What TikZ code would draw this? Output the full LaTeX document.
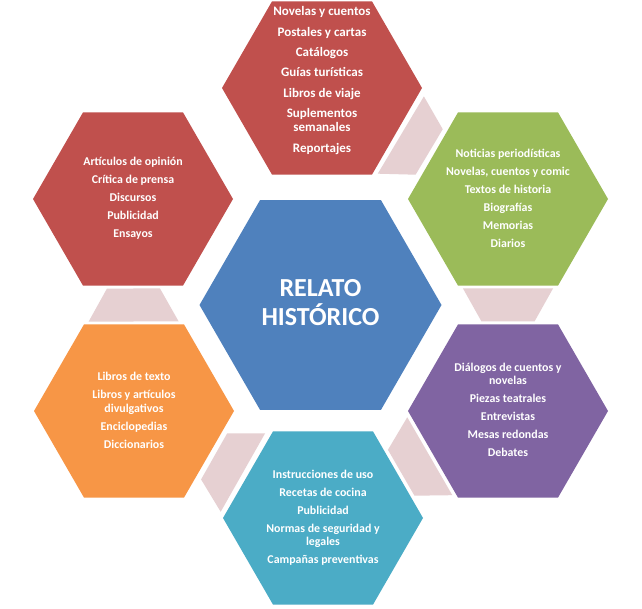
\documentclass[tikz,border=0pt]{standalone}
\usepackage{fontspec}
\setmainfont{Carlito}
\usetikzlibrary{calc}
\definecolor{hexred}{HTML}{C0504D}
\definecolor{hexgreen}{HTML}{9BBB59}
\definecolor{hexpurple}{HTML}{8064A2}
\definecolor{hexcyan}{HTML}{4BACC6}
\definecolor{hexorange}{HTML}{F79646}
\definecolor{hexblue}{HTML}{4F81BD}
\definecolor{linkpink}{RGB}{230,208,210}
\newcommand\hexshape[3]{\fill[#3] (#1) +(0:#2) -- +(60:#2) -- +(120:#2) -- +(180:#2) -- +(240:#2) -- +(300:#2) -- cycle;}
\newcommand\linkshape[2]{%
  \coordinate (lm) at ($(#1)!0.5!(#2)$);
  \coordinate (ls) at ($(lm)!16.5pt!(#1)$);
  \coordinate (lt) at ($(lm)!16.5pt!(#2)$);
  \fill[linkfill] ($(ls)!45pt!90:(#2)$) -- ($(ls)!45pt!-90:(#2)$) -- ($(lt)!26.5pt!-90:(#2)$) -- ($(lt)!26.5pt!90:(#2)$) -- cycle;}
\begin{document}
\begin{tikzpicture}[x=1pt,y=-1pt,
  linkfill/.style={fill=linkpink},
  itemtext/.style={text=white, font=\bfseries\fontsize{11.9}{13.5}\selectfont, align=center, inner sep=0pt},
  toptext/.style={text=white, font=\bfseries\fontsize{13}{14}\selectfont, align=center, inner sep=0pt},
  titletext/.style={text=white, font=\bfseries\fontsize{26}{29}\selectfont, align=center, inner sep=0pt}]
\useasboundingbox (0,0) rectangle (642,609);
\fill[white] (0,0) rectangle (642,609);
% centres
\coordinate (cc) at (320.5,305);
\coordinate (htop) at (322,88);
\coordinate (hur) at (508,199);
\coordinate (hlr) at (508,411);
\coordinate (hbot) at (323,518);
\coordinate (hll) at (134,411);
\coordinate (hul) at (133,199);
% links
\linkshape{htop}{hur}
\linkshape{hur}{hlr}
\linkshape{hlr}{hbot}
\linkshape{hbot}{hll}
\linkshape{hll}{hul}
% hexagons
\hexshape{cc}{121}{hexblue}
\hexshape{htop}{100}{hexred}
\hexshape{hur}{100}{hexgreen}
\hexshape{hlr}{100}{hexpurple}
\hexshape{hbot}{100}{hexcyan}
\hexshape{hll}{100}{hexorange}
\hexshape{hul}{100}{hexred}
% texts
\node[titletext] (tcenter) at (320.5,303) {RELATO\\HISTÓRICO};
\node[toptext] (ttop) at (322,80.5) {Novelas y cuentos\\[6.4pt]Postales y cartas\\[6.4pt]Catálogos\\[6.4pt]Guías turísticas\\[6.4pt]Libros de viaje\\[6.4pt]Suplementos\\semanales\\[6.4pt]Reportajes};
\node[itemtext] (tur) at (508,198) {Noticias periodísticas\\[4.5pt]Novelas, cuentos y comic\\[4.5pt]Textos de historia\\[4.5pt]Biografías\\[4.5pt]Memorias\\[4.5pt]Diarios};
\node[itemtext] (tul) at (133,198) {Artículos de opinión\\[4.5pt]Crítica de prensa\\[4.5pt]Discursos\\[4.5pt]Publicidad\\[4.5pt]Ensayos};
\node[itemtext] (tlr) at (508,410) {Diálogos de cuentos y\\novelas\\[4.5pt]Piezas teatrales\\[4.5pt]Entrevistas\\[4.5pt]Mesas redondas\\[4.5pt]Debates};
\node[itemtext] (tll) at (134,410.5) {Libros de texto\\[4.5pt]Libros y artículos\\divulgativos\\[4.5pt]Enciclopedias\\[4.5pt]Diccionarios};
\node[itemtext] (tbot) at (323,518) {Instrucciones de uso\\[4.5pt]Recetas de cocina\\[4.5pt]Publicidad\\[4.5pt]Normas de seguridad y\\legales\\[4.5pt]Campañas preventivas};
\end{tikzpicture}
\end{document}
